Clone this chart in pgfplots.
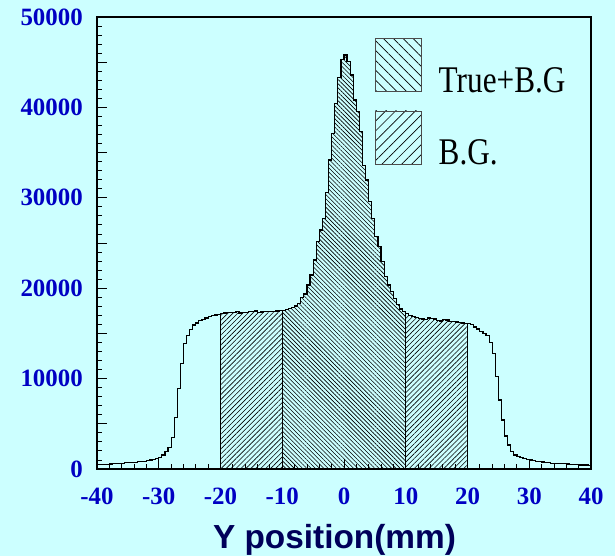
\documentclass[border=0pt]{standalone}
\usepackage{fontspec}
\setmainfont{Liberation Serif}
\newfontfamily\labelfont{Liberation Sans}
\newfontfamily\legfont[FakeStretch=0.83]{Liberation Serif}
\usepackage{pgfplots}
\pgfplotsset{compat=1.18}
\usepackage{pgfplotstable}
\usetikzlibrary{patterns.meta}
\definecolor{bgcyan}{RGB}{204,255,255}
\definecolor{tickblue}{RGB}{0,0,195}
\definecolor{navy}{RGB}{0,0,90}

\pgfplotstableread{
x y
-40 480
-39.5 490
-39 500
-38.5 520
-38 560
-37.5 580
-37 600
-36.5 620
-36 650
-35.5 680
-35 700
-34.5 730
-34 760
-33.5 800
-33 830
-32.5 870
-32 920
-31.5 990
-31 1070
-30.5 1170
-30 1280
-29.5 1550
-29 1920
-28.5 2400
-28 3500
-27.5 5720
-27 8920
-26.5 11690
-26 13900
-25.5 14740
-25 15450
-24.5 15930
-24 16150
-23.5 16400
-23 16560
-22.5 16700
-22 16900
-21.5 16960
-21 17030
-20.5 17100
-20 17220
-19.5 17250
-19 17330
-18.5 17290
-18 17310
-17.5 17380
-17 17260
-16.5 17300
-16 17350
-15.5 17400
-15 17380
-14.5 17480
-14 17330
-13.5 17360
-13 17400
-12.5 17420
-12 17450
-11.5 17430
-11 17480
-10.5 17510
-10 17550
-9.5 17650
-9 17770
-8.5 17900
-8 18030
-7.5 18330
-7 19000
-6.5 19360
-6 20350
-5.5 21460
-5 23120
-4.5 25140
-4 26430
-3.5 27730
-3 30570
-2.5 34180
-2 37130
-1.5 40450
-1 43320
-0.5 45300
0 45800
0.5 45050
1 43580
1.5 40820
2 39530
2.5 37310
3 33600
3.5 31970
4 29570
4.5 27730
5 25700
5.5 24590
6 22930
6.5 21270
7 20350
7.5 19610
8 18880
8.5 18200
9 17700
9.5 17400
10 17220
10.5 17000
11 16850
11.5 16750
12 16650
12.5 16600
13 16550
13.5 16700
14 16650
14.5 16600
15 16450
15.5 16370
16 16500
16.5 16480
17 16350
17.5 16290
18 16250
18.5 16180
19 16150
19.5 16110
20 16080
20.5 15950
21 15700
21.5 15480
22 15200
22.5 15000
23 14800
23.5 13970
24 12800
24.5 10210
25 7630
25.5 5420
26 3650
26.5 2650
27 1920
27.5 1550
28 1400
28.5 1290
29 1180
29.5 1070
30 1000
30.5 930
31 870
31.5 810
32 770
32.5 730
33 690
33.5 650
34 630
34.5 610
35 590
35.5 570
36 550
36.5 520
37 500
37.5 460
38 450
38.5 440
39 440
39.5 430
40 430
}\histdata

\begin{document}
\begin{tikzpicture}
\fill[bgcyan] (0bp,0bp) rectangle (615bp,556bp);
\useasboundingbox (0bp,0bp) rectangle (615bp,556bp);
\begin{axis}[
  at={(97bp,87bp)}, anchor=south west,
  scale only axis, width=494bp, height=452bp,
  xmin=-40, xmax=40, ymin=0, ymax=50000,
  axis on top,
  axis line style={line width=1.6bp, black},
  tick align=inside, tick pos=left,
  every tick/.style={black, line width=0.9bp},
  major tick length=10bp, minor tick length=5bp,
  xtick={-40,-30,...,40}, minor x tick num=4,
  ytick={0,10000,...,50000}, minor y tick num=9,
  extra y ticks={5000,15000,25000,35000,45000},
  extra y tick labels={},
  scaled ticks=false,
  /pgf/number format/assume math mode=true,
  /pgf/number format/1000 sep={},
  tick label style={font=\bfseries\fontsize{25}{25}\selectfont, color=tickblue},
  x tick label style={inner sep=0pt, yshift=-19bp},
  y tick label style={inner sep=0pt, xshift=-14bp},
  xlabel={Y position(mm)},
  xlabel style={at={(axis description cs:0.4808,-0.1748)}, anchor=base,
    font=\labelfont\bfseries\fontsize{33.5}{33.5}\selectfont, color=navy},
  legend image code/.code={\draw[#1] (0bp,-11bp) rectangle (46bp,42bp);},
  legend style={at={(axis description cs:0.5628,0.9535)}, anchor=north west,
    draw=none, fill=none, inner sep=0pt, outer sep=0pt,
    row sep=17bp, column sep=17bp,
    nodes={inner sep=0pt}, font=\legfont\fontsize{37.8}{37.8}\selectfont, text=black},
  legend cell align=left,
]
\addplot[const plot, draw=black, line width=0.9bp,
  pattern={Lines[angle=45,distance=3.5bp,line width=0.6bp]}, pattern color=black,
  restrict x to domain=-20:-10, forget plot] table {\histdata} \closedcycle;
\addplot[const plot, draw=black, line width=0.9bp,
  pattern={Lines[angle=45,distance=3.5bp,line width=0.6bp]}, pattern color=black,
  restrict x to domain=10:20, forget plot] table {\histdata} \closedcycle;
\addplot[const plot, draw=black, line width=0.9bp,
  pattern={Lines[angle=-45,distance=3bp,line width=0.6bp]}, pattern color=black,
  restrict x to domain=-10:10, forget plot] table {\histdata} \closedcycle;
\addplot[const plot, draw=black, line width=1.2bp, forget plot] table {\histdata};
\addlegendimage{draw=black!70, line width=0.8bp,
  pattern={Lines[angle=-45,distance=7bp,line width=0.7bp]}, pattern color=black}
\addlegendentry{True+B.G}
\addlegendimage{draw=black!70, line width=0.8bp,
  pattern={Lines[angle=45,distance=7bp,line width=0.7bp]}, pattern color=black}
\addlegendentry{B.G.}
\end{axis}
\end{tikzpicture}
\end{document}
